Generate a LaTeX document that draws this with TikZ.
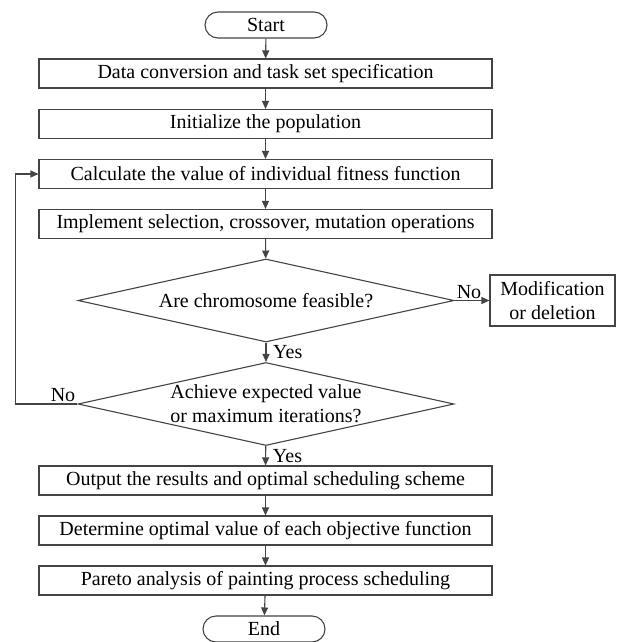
\documentclass[tikz,border=0pt]{standalone}
\usepackage{fontspec}
\setmainfont{Liberation Serif}
\usetikzlibrary{shapes.geometric, shapes.misc, arrows.meta, positioning, calc}
\definecolor{linegray}{RGB}{68, 68, 68}

\begin{document}
\begin{tikzpicture}[x=1pt, y=-1pt,
        font=\fontsize{20pt}{24pt}\selectfont,
        terminal/.style={draw=linegray, line width=1.1pt, rounded rectangle, minimum width=122pt, minimum height=26pt, inner sep=0pt},
        process/.style={draw=linegray, line width=1.1pt, minimum width=453pt, minimum height=29pt, inner sep=0pt},
        decision/.style={draw=linegray, line width=1.1pt, diamond, minimum width=376pt, minimum height=83pt, inner sep=0pt},
        arr/.style={draw=linegray, line width=1.1pt, -{Triangle[length=8pt, width=7pt]}},
        tag/.style={inner sep=2pt}
    ]
        \useasboundingbox (0,0) rectangle (621,642);

        % main column
        \node[terminal] (start) at (266,25) {Start};
        \node[process] (conv) at (265.5,73.5) {Data conversion and task set specification};
        \node[process] (init) at (265.5,124) {Initialize the population};
        \node[process] (calc) at (265.5,174) {Calculate the value of individual fitness function};
        \node[process] (ops) at (265.5,224) {Implement selection, crossover, mutation operations};
        \node[decision, label={[align=center]center:{Are chromosome feasible?}}] (feas) at (266,300.5) {};
        \node[draw=linegray, line width=1.1pt, minimum width=125pt, minimum height=51pt, inner sep=0pt, align=center] (modif) at (552.5,300.5) {Modification\\or deletion};
        \node[decision, label={[align=center]center:{Achieve expected value\\or maximum iterations?}}] (stop) at (266,404) {};
        \node[process] (out) at (265.5,480.5) {Output the results and optimal scheduling scheme};
        \node[process] (best) at (265.5,530.5) {Determine optimal value of each objective function};
        \node[process] (pareto) at (265.5,580.5) {Pareto analysis of painting process scheduling};
        \node[terminal] (end) at (264,629) {End};

        % connectors
        \draw[arr] (start) -- (conv);
        \draw[arr] (conv) -- (init);
        \draw[arr] (init) -- (calc);
        \draw[arr] (calc) -- (ops);
        \draw[arr] (ops) -- (feas);
        \draw[arr] (feas.east) -- (modif.west);
        \draw[arr] (feas) -- (stop);
        \draw[arr] (stop.west) -- ++(-62,0) |- (calc.west);
        \draw[arr] (stop) -- (out);
        \draw[arr] (out) -- (best);
        \draw[arr] (best) -- (pareto);
        \draw[arr] (pareto) -- (end);

        % branch labels
        \node[tag, anchor=south west] (no1) at (feas.east) {No};
        \node[tag, anchor=west, xshift=5pt] (yes1) at ($(feas.south)!0.5!(stop.north)$) {Yes};
        \node[tag, anchor=south east] (no2) at (stop.west) {No};
        \node[tag, anchor=west, xshift=5pt] (yes2) at ($(stop.south)!0.5!(out.north)$) {Yes};
    \end{tikzpicture}
\end{document}
